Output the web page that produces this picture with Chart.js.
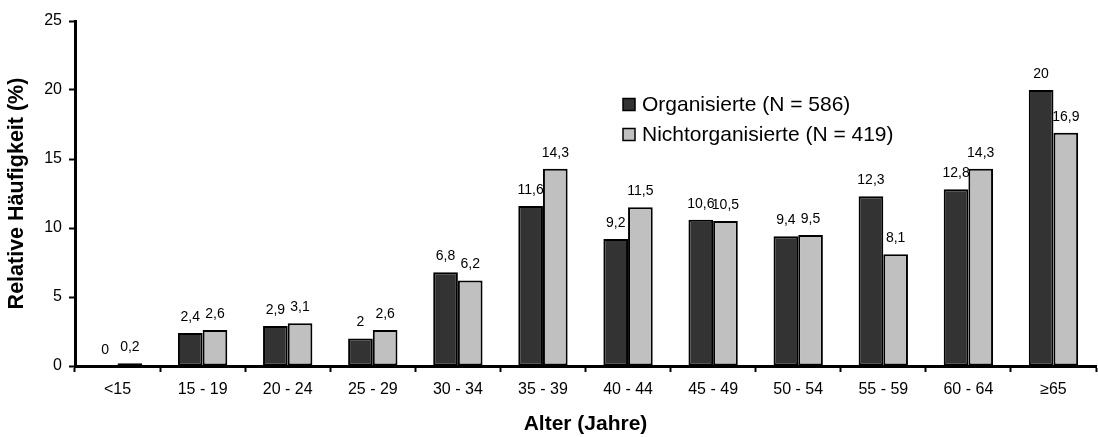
<!DOCTYPE html>
<html>
<head>
<meta charset="utf-8">
<script src="https://cdn.jsdelivr.net/npm/chart.js@4/dist/chart.umd.min.js"></script>
<style>
  body { margin: 0; background: #fff; }
</style>
</head>
<body>
<canvas id="myChart" width="1098" height="437"></canvas>
<script>
const categories = ['<15', '15 - 19', '20 - 24', '25 - 29', '30 - 34', '35 - 39',
    '40 - 44', '45 - 49', '50 - 54', '55 - 59', '60 - 64', '≥65'];
const organisierte = [0, 2.4, 2.9, 2, 6.8, 11.6, 9.2, 10.6, 9.4, 12.3, 12.8, 20];
const nichtorganisierte = [0.2, 2.6, 3.1, 2.6, 6.2, 14.3, 11.5, 10.5, 9.5, 8.1, 14.3, 16.9];
const seriesNames = ['Organisierte (N = 586)', 'Nichtorganisierte (N = 419)'];

const FONT = 'Liberation Sans, Arial, sans-serif';

// value labels above each bar
const barLabels = {
    id: 'barLabels',
    afterDatasetsDraw(chart) {
        const ctx = chart.ctx;
        ctx.save();
        ctx.font = '14px ' + FONT;
        ctx.fillStyle = '#000';
        ctx.textAlign = 'center';
        ctx.textBaseline = 'alphabetic';
        chart.data.datasets.forEach((ds, i) => {
            chart.getDatasetMeta(i).data.forEach((bar, j) => {
                const txt = String(ds.data[j]).replace('.', ',');
                ctx.fillText(txt, bar.x, bar.y - 12);
            });
        });
        ctx.restore();
    }
};

// legend inside the plot, like the original
const innerLegend = {
    id: 'innerLegend',
    afterDraw(chart) {
        const ctx = chart.ctx;
        ctx.save();
        ctx.font = '21px ' + FONT;
        ctx.textBaseline = 'middle';
        ctx.textAlign = 'left';
        chart.data.datasets.forEach((ds, i) => {
            const y = 104.5 + i * 30;
            ctx.fillStyle = ds.backgroundColor;
            ctx.fillRect(623, y - 6, 12, 12);
            ctx.strokeStyle = '#000';
            ctx.lineWidth = 1.5;
            ctx.strokeRect(623, y - 6, 12, 12);
            ctx.fillStyle = '#000';
            ctx.fillText(ds.label, 642, y + 1);
        });
        ctx.restore();
    }
};

const data = {
    labels: categories,
    datasets: [{
        label: seriesNames[0],
        data: organisierte,
        backgroundColor: '#333333',
        borderColor: '#000',
        borderWidth: 2,
        borderSkipped: false
    }, {
        label: seriesNames[1],
        data: nichtorganisierte,
        backgroundColor: '#c0c0c0',
        borderColor: '#000',
        borderWidth: 2,
        borderSkipped: false
    }]
};

const config = {
    type: 'bar',
    data: data,
    options: {
        responsive: false,
        animation: false,
        datasets: {
            bar: { categoryPercentage: 0.58, barPercentage: 1 }
        },
        layout: { padding: { top: 21, right: 2, left: 0, bottom: 0 } },
        plugins: {
            legend: { display: false },
            tooltip: { enabled: false }
        },
        scales: {
            x: {
                grid: { drawOnChartArea: false, tickLength: 6, tickWidth: 2, color: '#000', offset: true },
                border: { display: true, color: '#000', width: 3 },
                ticks: { color: '#000', font: { family: FONT, size: 16 }, padding: 8, maxRotation: 0, autoSkip: false },
                title: { display: true, text: 'Alter (Jahre)', color: '#000',
                    font: { family: FONT, size: 21, weight: 'bold' }, padding: { top: 0, bottom: 0 } },
                afterFit(scale) { scale.height = 71; }
            },
            y: {
                min: 0,
                max: 25,
                grid: { drawOnChartArea: false, tickLength: 6, tickWidth: 2, color: '#000' },
                border: { display: true, color: '#000', width: 3 },
                ticks: { stepSize: 5, color: '#000', font: { family: FONT, size: 16 }, padding: 7 },
                title: { display: true, text: 'Relative Häufigkeit (%)', color: '#000',
                    font: { family: FONT, size: 21.5, weight: 'bold' }, padding: { top: 4, bottom: 4 } },
                afterFit(scale) { scale.width = 75; }
            }
        }
    },
    plugins: [barLabels, innerLegend]
};

const myChart = new Chart(document.getElementById('myChart'), config);
</script>
</body>
</html>
